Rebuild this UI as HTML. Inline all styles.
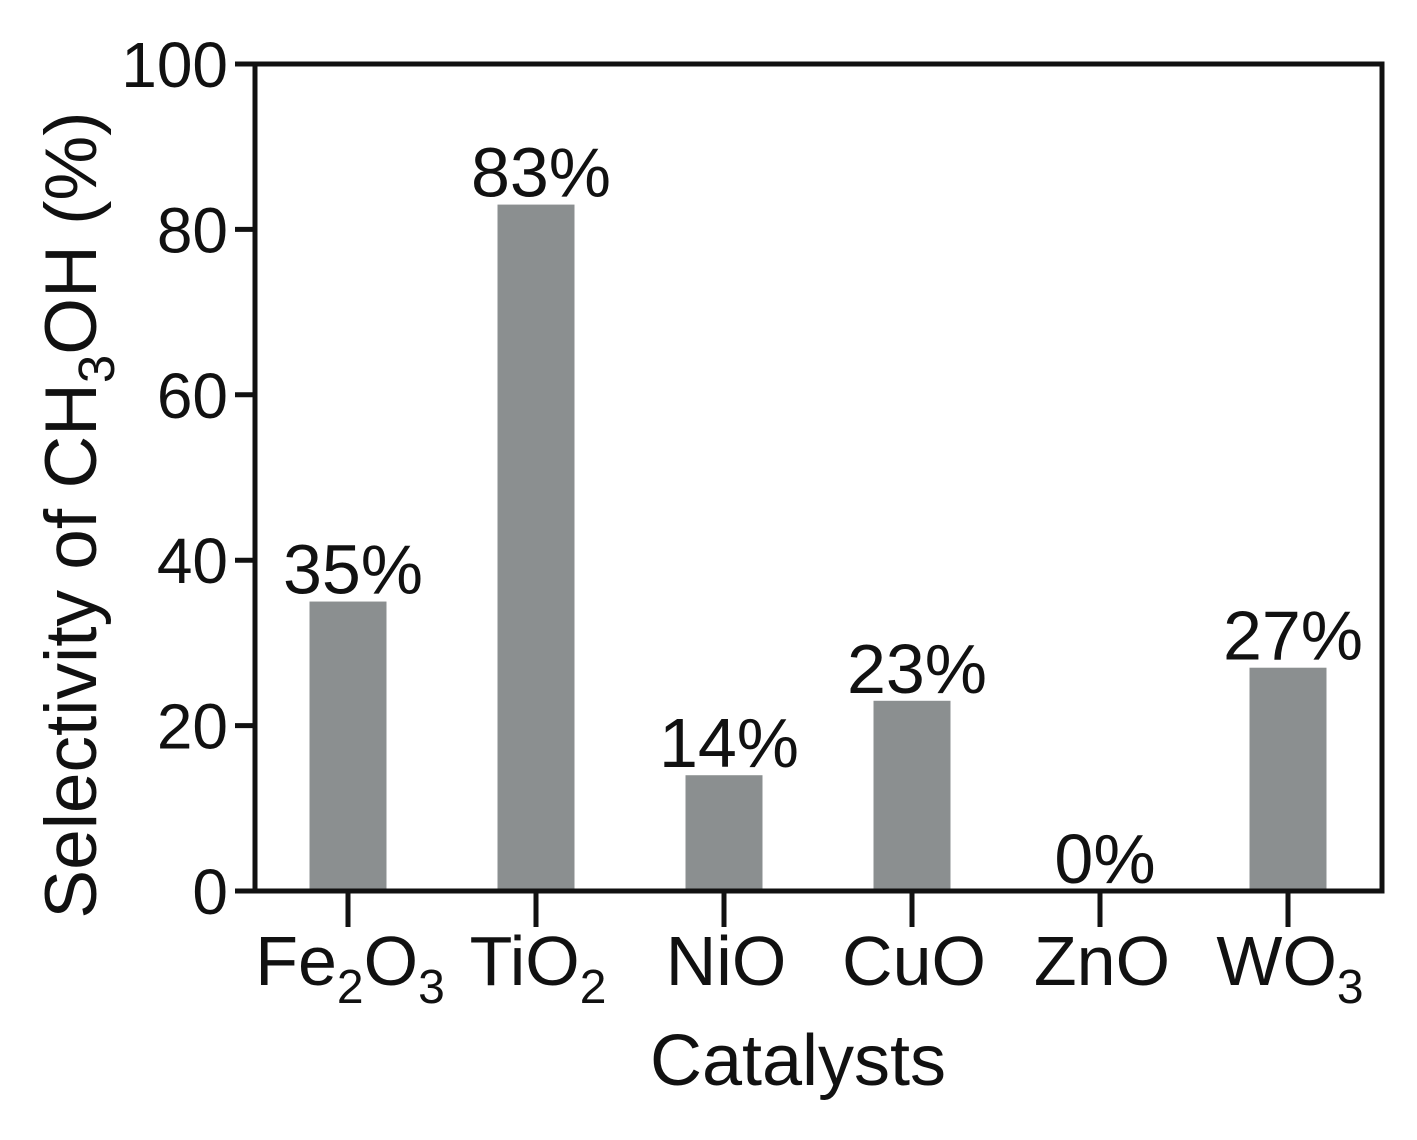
<!DOCTYPE html>
<html><head><meta charset="utf-8"><style>
html,body{margin:0;padding:0;background:#fff;}
svg text{font-family:"Liberation Sans",sans-serif;fill:#111;}
</style></head><body>
<svg id="chart" width="1417" height="1135" xmlns="http://www.w3.org/2000/svg"></svg>
<script>
const categories = ["Fe2O3","TiO2","NiO","CuO","ZnO","WO3"];
const values = [35, 83, 14, 23, 0, 27];
const valueLabels = ["35%","83%","14%","23%","0%","27%"];
const yTicks = [0,20,40,60,80,100];

const NS="http://www.w3.org/2000/svg";
const svg=document.getElementById('chart');
const L=255,R=1382,T=64,B=891;
const y=v=>B-(v/100)*(B-T);
const x=i=>348+i*188;
function el(tag,attrs,parent){const e=document.createElementNS(NS,tag);for(const k in attrs)e.setAttribute(k,attrs[k]);(parent||svg).appendChild(e);return e;}

values.forEach((v,i)=>{
  const r=el('rect',{x:x(i)-38.5,y:y(v),width:77,height:B-y(v),fill:'#8b8f90'});
  
  
  const t=el('text',{x:x(i)+5,y:y(v)-8,'text-anchor':'middle','font-size':70});
  t.textContent=valueLabels[i];
  
  
});
const f=el('rect',{x:L,y:T,width:R-L,height:B-T,fill:'none',stroke:'#111','stroke-width':5});


yTicks.forEach(v=>{
  const ln=el('line',{x1:235,x2:L,y1:y(v),y2:y(v),stroke:'#111','stroke-width':5});
  
  
  const t=el('text',{x:228,y:y(v)+23,'text-anchor':'end','font-size':64});
  t.textContent=v;
  
  
});
categories.forEach((c,i)=>{
  const ln=el('line',{x1:x(i),x2:x(i),y1:B,y2:927,stroke:'#111','stroke-width':5});
  
  
  const t=el('text',{x:x(i)+2,y:985,'text-anchor':'middle','font-size':70});
  
  
  let parts=[];
  if(c==="Fe2O3") parts=[["Fe",0],["2",1],["O",0],["3",1]];
  else if(c==="TiO2") parts=[["TiO",0],["2",1]];
  else if(c==="WO3") parts=[["WO",0],["3",1]];
  else parts=[[c,0]];
  parts.forEach(p=>{const s=el('tspan',{},t);s.textContent=p[0];if(p[1]){s.setAttribute('font-size',48);s.setAttribute('dy',18);}else if(s.previousSibling){s.setAttribute('dy',-18);}});
});
const xt=el('text',{x:798,y:1085,'text-anchor':'middle','font-size':72});
xt.textContent='Catalysts';


const yt=el('text',{x:0,y:0,'text-anchor':'middle','font-size':73,transform:'translate(96,515) rotate(-90)'});


const a=el('tspan',{},yt);a.textContent='Selectivity of CH';
const b=el('tspan',{'font-size':51,dy:18},yt);b.textContent='3';
const c2=el('tspan',{dy:-18},yt);c2.textContent='OH (%)';
</script>
</body></html>
